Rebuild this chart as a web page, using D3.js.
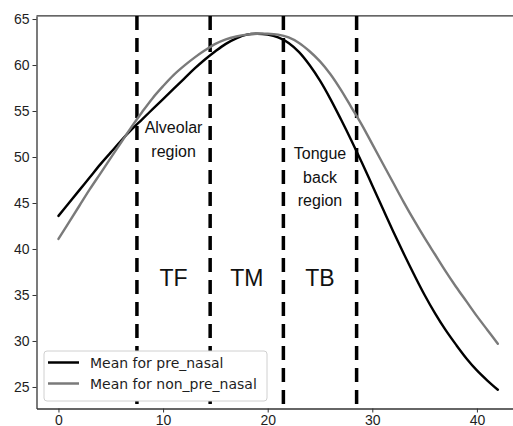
<!DOCTYPE html>
<html>
<head>
<meta charset="utf-8">
<script src="https://cdn.jsdelivr.net/npm/d3@7"></script>
<style>
  body { margin: 0; background: #fff; }
  svg { display: block; font-family: "DejaVu Sans", sans-serif; }
</style>
</head>
<body>
<svg id="chart"></svg>
<script>
// positions along the tongue (0..42)
var positions = d3.range(0, 43);

var preNasal = [43.6, 45.0, 46.4, 47.8, 49.2, 50.5, 51.8, 53.0, 54.1, 55.2,
  56.3, 57.4, 58.5, 59.6, 60.6, 61.5, 62.3, 62.9, 63.3, 63.4,
  63.3, 63.0, 62.4, 61.4, 60.0, 58.3, 56.3, 54.1, 51.8, 49.4,
  46.9, 44.4, 41.9, 39.5, 37.2, 35.0, 33.0, 31.2, 29.6, 28.1,
  26.8, 25.7, 24.7];

var nonPreNasal = [41.1, 42.9, 44.7, 46.5, 48.2, 49.9, 51.6, 53.3, 54.9, 56.4,
  57.7, 58.9, 59.9, 60.8, 61.6, 62.3, 62.8, 63.1, 63.3, 63.4,
  63.4, 63.3, 63.0, 62.4, 61.5, 60.4, 59.0, 57.3, 55.4, 53.5,
  51.4, 49.3, 47.2, 45.1, 43.1, 41.2, 39.4, 37.6, 35.9, 34.3,
  32.7, 31.2, 29.7];

var seriesNames = ["Mean for pre_nasal", "Mean for non_pre_nasal"];
var seriesColors = ["#000000", "#7a7a7a"];

var boundaries = [7.5, 14.5, 21.5, 28.5];
var regionLabels = ["TF", "TM", "TB"];
var xTicks = [0, 10, 20, 30, 40];
var yTicks = [25, 30, 35, 40, 45, 50, 55, 60, 65];

const width = 513;
const height = 426;

var x = d3.scaleLinear().domain([-2.1, 44.1]).range([36.5, 519.8]);
var y = d3.scaleLinear().domain([22.66, 65.34]).range([408.5, 15.9]);

var svg = d3.select('#chart')
  .attr('width', width)
  .attr('height', height);

// axes
var yAxis = svg.append('g')
  .attr('transform', `translate(${x(-2.1)},0)`)
  .call(d3.axisLeft(y).tickValues(yTicks).tickSize(4).tickSizeOuter(0).tickPadding(3));

var xAxis = svg.append('g')
  .attr('transform', `translate(0,${y(22.66)})`)
  .call(d3.axisBottom(x).tickValues(xTicks).tickSize(4).tickSizeOuter(0).tickPadding(3));

[xAxis, yAxis].forEach(a => {
  a.selectAll('path').attr('stroke', '#333').attr('stroke-width', 1.3);
  a.selectAll('line').attr('stroke', '#333');
  a.selectAll('text').attr('fill', '#1e1e1e').style('font-size', '14px');
});

// top spine
svg.append('line')
  .attr('x1', x(-2.1)).attr('x2', x(44.1))
  .attr('y1', y(65.34)).attr('y2', y(65.34))
  .attr('stroke', '#333')
  .attr('stroke-width', 1.3);

// region boundaries
svg.selectAll('.boundary')
  .data(boundaries)
  .enter().append('line')
    .attr('class', 'boundary')
    .attr('x1', d => x(d)).attr('x2', d => x(d))
    .attr('y1', y(65.34)).attr('y2', y(22.66))
    .attr('stroke', '#000')
    .attr('stroke-width', 3.5)
    .attr('stroke-dasharray', '14,8');

// curves
var line = d3.line()
  .x((d, i) => x(positions[i]))
  .y(d => y(d))
  .curve(d3.curveCatmullRom);

[preNasal, nonPreNasal].forEach((s, i) => {
  svg.append('path')
    .datum(s)
    .attr('fill', 'none')
    .attr('stroke', seriesColors[i])
    .attr('stroke-width', 2.4)
    .attr('stroke-linecap', 'round')
    .attr('d', line);
});

// region text
var labelFont = '"Liberation Sans", Arial, sans-serif';

svg.selectAll('.region')
  .data(regionLabels)
  .enter().append('text')
    .attr('x', (d, i) => x((boundaries[i] + boundaries[i + 1]) / 2))
    .attr('y', 286)
    .attr('text-anchor', 'middle')
    .style('font-family', labelFont)
    .style('font-size', '23px')
    .attr('fill', '#111')
    .text(d => d);

var notes = [
  {lines: ["Alveolar", "region"], cx: 11, top: 133},
  {lines: ["Tongue", "back", "region"], cx: 25, top: 159}
];
notes.forEach(n => {
  n.lines.forEach((t, j) => {
    svg.append('text')
      .attr('x', x(n.cx))
      .attr('y', n.top + j * 23.5)
      .attr('text-anchor', 'middle')
      .style('font-family', labelFont)
      .style('font-size', '16px')
      .attr('fill', '#111')
      .text(t);
  });
});

// legend
var legend = svg.append('g').attr('transform', 'translate(44,351)');
legend.append('rect')
  .attr('width', 223).attr('height', 50)
  .attr('rx', 3)
  .attr('fill', '#fff')
  .attr('stroke', '#d0d0d0');

seriesNames.forEach((name, i) => {
  var ly = 11.5 + i * 21;
  legend.append('line')
    .attr('x1', 4).attr('x2', 35)
    .attr('y1', ly).attr('y2', ly)
    .attr('stroke', seriesColors[i])
    .attr('stroke-width', 2.5);
  legend.append('text')
    .attr('x', 46).attr('y', ly + 5)
    .style('font-size', '14px')
    .attr('fill', '#1e1e1e')
    .text(name);
});
</script>
</body>
</html>
